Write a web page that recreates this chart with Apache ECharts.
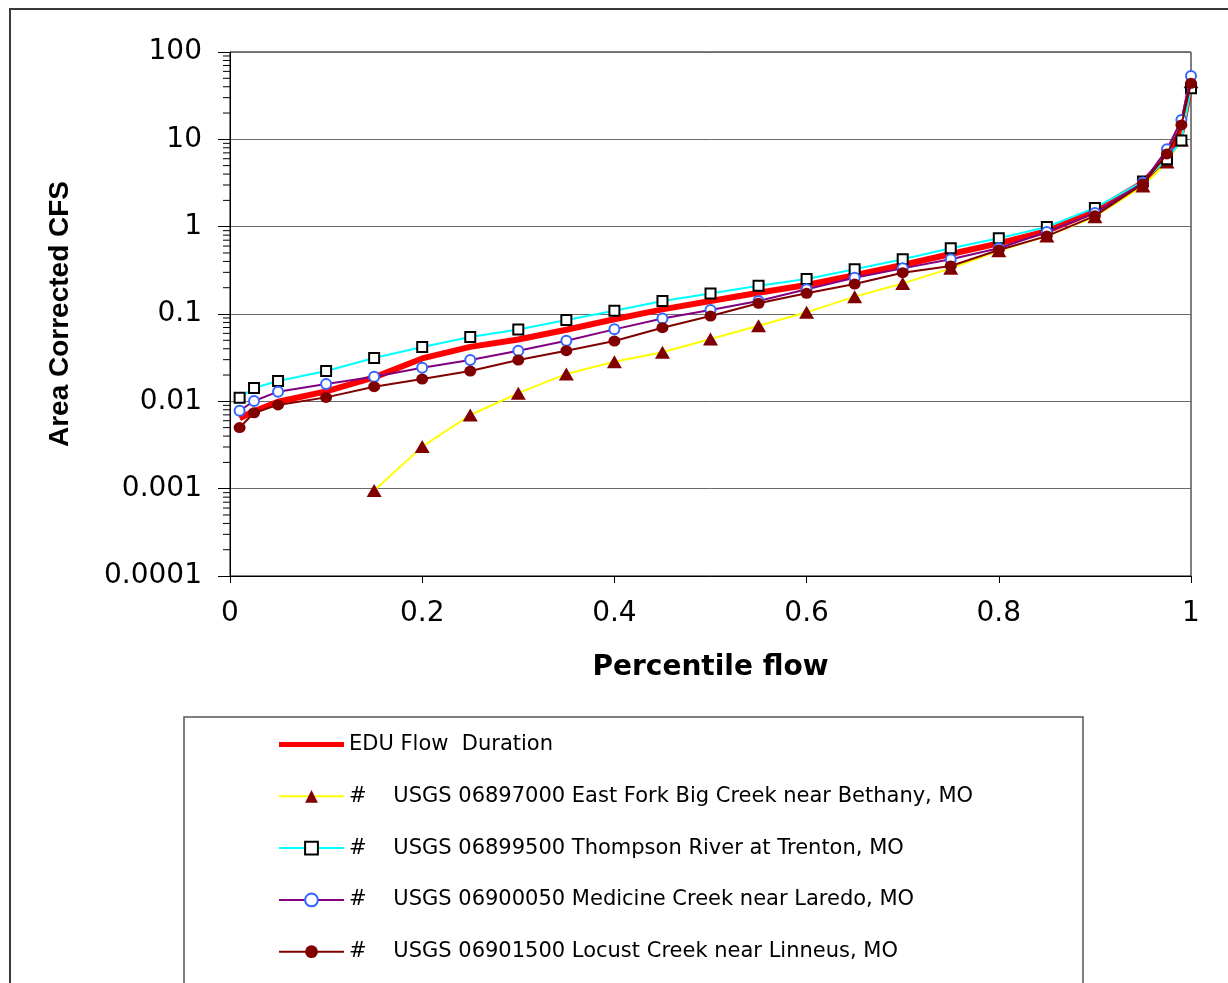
<!DOCTYPE html>
<html>
<head>
<meta charset="utf-8">
<script src="https://cdn.jsdelivr.net/npm/echarts@6/dist/echarts.min.js"></script>
<style>
html,body{margin:0;padding:0;background:#fff;}
#chart{width:1228px;height:983px;}
</style>
</head>
<body>
<div id="chart"></div>
<script>
// Percentile flow (x) positions
var xValues = [0.01,0.025,0.05,0.1,0.15,0.2,0.25,0.3,0.35,0.4,0.45,0.5,0.55,0.6,0.65,0.7,0.75,0.8,0.85,0.9,0.95,0.975,0.99,1];
// Area corrected CFS per series
var eduFlow   = [0.0064,0.0077,0.0099,0.013,0.0188,0.031,0.042,0.051,0.066,0.087,0.113,0.141,0.175,0.215,0.279,0.364,0.486,0.644,0.89,1.51,3.2,6.2,12,44];
var eastFork  = [null,null,null,null,0.00095,0.00303,0.00697,0.0124,0.0206,0.0284,0.0364,0.0517,0.0735,0.1045,0.158,0.224,0.333,0.53,0.78,1.3,2.92,5.5,9.8,45.7];
var thompson  = [0.011,0.0142,0.0171,0.0222,0.0313,0.0419,0.0545,0.0665,0.0853,0.109,0.141,0.172,0.21,0.252,0.325,0.423,0.565,0.736,0.99,1.64,3.3,5.9,9.7,38.5];
var medicine  = [0.0078,0.0101,0.0129,0.0158,0.0191,0.0243,0.0297,0.038,0.0494,0.0667,0.089,0.111,0.141,0.192,0.26,0.333,0.423,0.565,0.87,1.43,3.2,7.7,16.6,53];
var locust    = [0.005,0.0074,0.0091,0.0111,0.0147,0.018,0.0222,0.0297,0.038,0.049,0.0697,0.0948,0.1325,0.1726,0.22,0.297,0.355,0.54,0.78,1.33,3.08,6.8,14.6,43.8];

var seriesNames = [
  'EDU Flow  Duration',
  '#    USGS 06897000 East Fork Big Creek near Bethany, MO',
  '#    USGS 06899500 Thompson River at Trenton, MO',
  '#    USGS 06900050 Medicine Creek near Laredo, MO',
  '#    USGS 06901500 Locust Creek near Linneus, MO'
];
var yTickLabels = ['0.0001','0.001','0.01','0.1','1','10','100'];
var xTickLabels = ['0','0.2','0.4','0.6','0.8','1'];
var minorMultipliers = [2,3,4,5,6,7,8,9];
var decadeExponents = [-4,-3,-2,-1,0,1];

function pairs(arr){
  return xValues.map(function(x,i){ return [x, arr[i]]; });
}
var minorTickValues = [];
decadeExponents.forEach(function(e){
  minorMultipliers.forEach(function(m){ minorTickValues.push([0, m*Math.pow(10,e)]); });
});

var FONT = 'DejaVu Sans';
// thick bar centred in a 65x16 icon box
var thickLineIcon = 'path://M0,0L0.01,0L0,0.01ZM0,5.5L65,5.5L65,10.5L0,10.5ZM0,16L0.01,16L0,15.99Z';

var chart = echarts.init(document.getElementById('chart'), null, {renderer:'canvas'});
chart.setOption({
  animation: false,
  backgroundColor: '#ffffff',
  graphic: [
    {type:'rect', shape:{x:10,y:9,width:1300,height:1100}, style:{fill:'none',stroke:'#3a3a3a',lineWidth:2}, z:-10},
    {type:'rect', shape:{x:184,y:717,width:899,height:400}, style:{fill:'none',stroke:'#555555',lineWidth:1.5}, z:-10}
  ],
  grid: {left:230, top:52, right:37, bottom:407, show:true, borderColor:'#000', borderWidth:1, backgroundColor:'transparent'},
  legend: {
    orient:'vertical', left:273, top:729,
    itemWidth:65, itemHeight:16, itemGap:30.8,
    textStyle:{fontFamily:FONT, fontSize:21, color:'#000'},
    data: [
      {name:seriesNames[0], icon:thickLineIcon, itemStyle:{color:'#ff0000'}},
      seriesNames[1], seriesNames[2], seriesNames[3], seriesNames[4]
    ]
  },
  xAxis: {
    type:'value', min:0, max:1, interval:0.2,
    name:'Percentile flow', nameLocation:'middle', nameGap:78,
    nameTextStyle:{fontFamily:FONT, fontSize:28, fontWeight:'bold', color:'#000'},
    axisLine:{show:true, lineStyle:{color:'#000', width:1}},
    axisTick:{show:true, length:7, lineStyle:{color:'#000'}},
    axisLabel:{fontFamily:FONT, fontSize:28, color:'#000', margin:24,
      formatter:function(v){ return xTickLabels[Math.round(v/0.2)]; }},
    splitLine:{show:false}
  },
  yAxis: {
    type:'log', logBase:10, min:0.0001, max:100, splitNumber:6,
    name:'Area Corrected CFS', nameLocation:'middle', nameGap:156,
    nameTextStyle:{fontFamily:'Liberation Sans', fontSize:28, fontWeight:'bold', color:'#000'},
    axisLine:{show:true, lineStyle:{color:'#000', width:1}},
    axisTick:{show:true, length:12, lineStyle:{color:'#000'}},
    axisLabel:{fontFamily:FONT, fontSize:28, color:'#000', margin:28,
      formatter:function(v){ return yTickLabels[Math.round(Math.log10(v))+4]; }},
    splitLine:{show:true, lineStyle:{color:'#6a6a6a', width:1}}
  },
  series: [
    {name:seriesNames[0], type:'line', data:pairs(eduFlow), symbol:'none', showSymbol:false,
     lineStyle:{color:'#ff0000', width:6}, itemStyle:{color:'#ff0000'}, z:2},
    {name:seriesNames[1], type:'line', data:pairs(eastFork), symbol:'triangle', symbolSize:[15,13], showAllSymbol:true,
     lineStyle:{color:'#ffff00', width:2}, itemStyle:{color:'#800000', borderColor:'#800000', borderWidth:0}, z:3},
    {name:seriesNames[2], type:'line', data:pairs(thompson), symbol:'rect', symbolSize:10, showAllSymbol:true,
     lineStyle:{color:'#00ffff', width:2}, itemStyle:{color:'#ffffff', borderColor:'#000000', borderWidth:2}, z:4},
    {name:seriesNames[3], type:'line', data:pairs(medicine), symbol:'circle', symbolSize:10, showAllSymbol:true,
     lineStyle:{color:'#800080', width:2}, itemStyle:{color:'#ffffff', borderColor:'#3366ff', borderWidth:2}, z:5},
    {name:seriesNames[4], type:'line', data:pairs(locust), symbol:'circle', symbolSize:[12,11], showAllSymbol:true,
     lineStyle:{color:'#800000', width:2}, itemStyle:{color:'#800000', borderWidth:0}, z:6},
    {type:'custom', name:'minorTicks', clip:false, silent:true, data:minorTickValues, z:1,
     renderItem:function(params, api){
       var p = api.coord([0, api.value(1)]);
       return {type:'line', shape:{x1:p[0]-7, y1:p[1], x2:p[0], y2:p[1]}, style:{stroke:'#000', lineWidth:1}};
     }}
  ]
});
</script>
</body>
</html>
